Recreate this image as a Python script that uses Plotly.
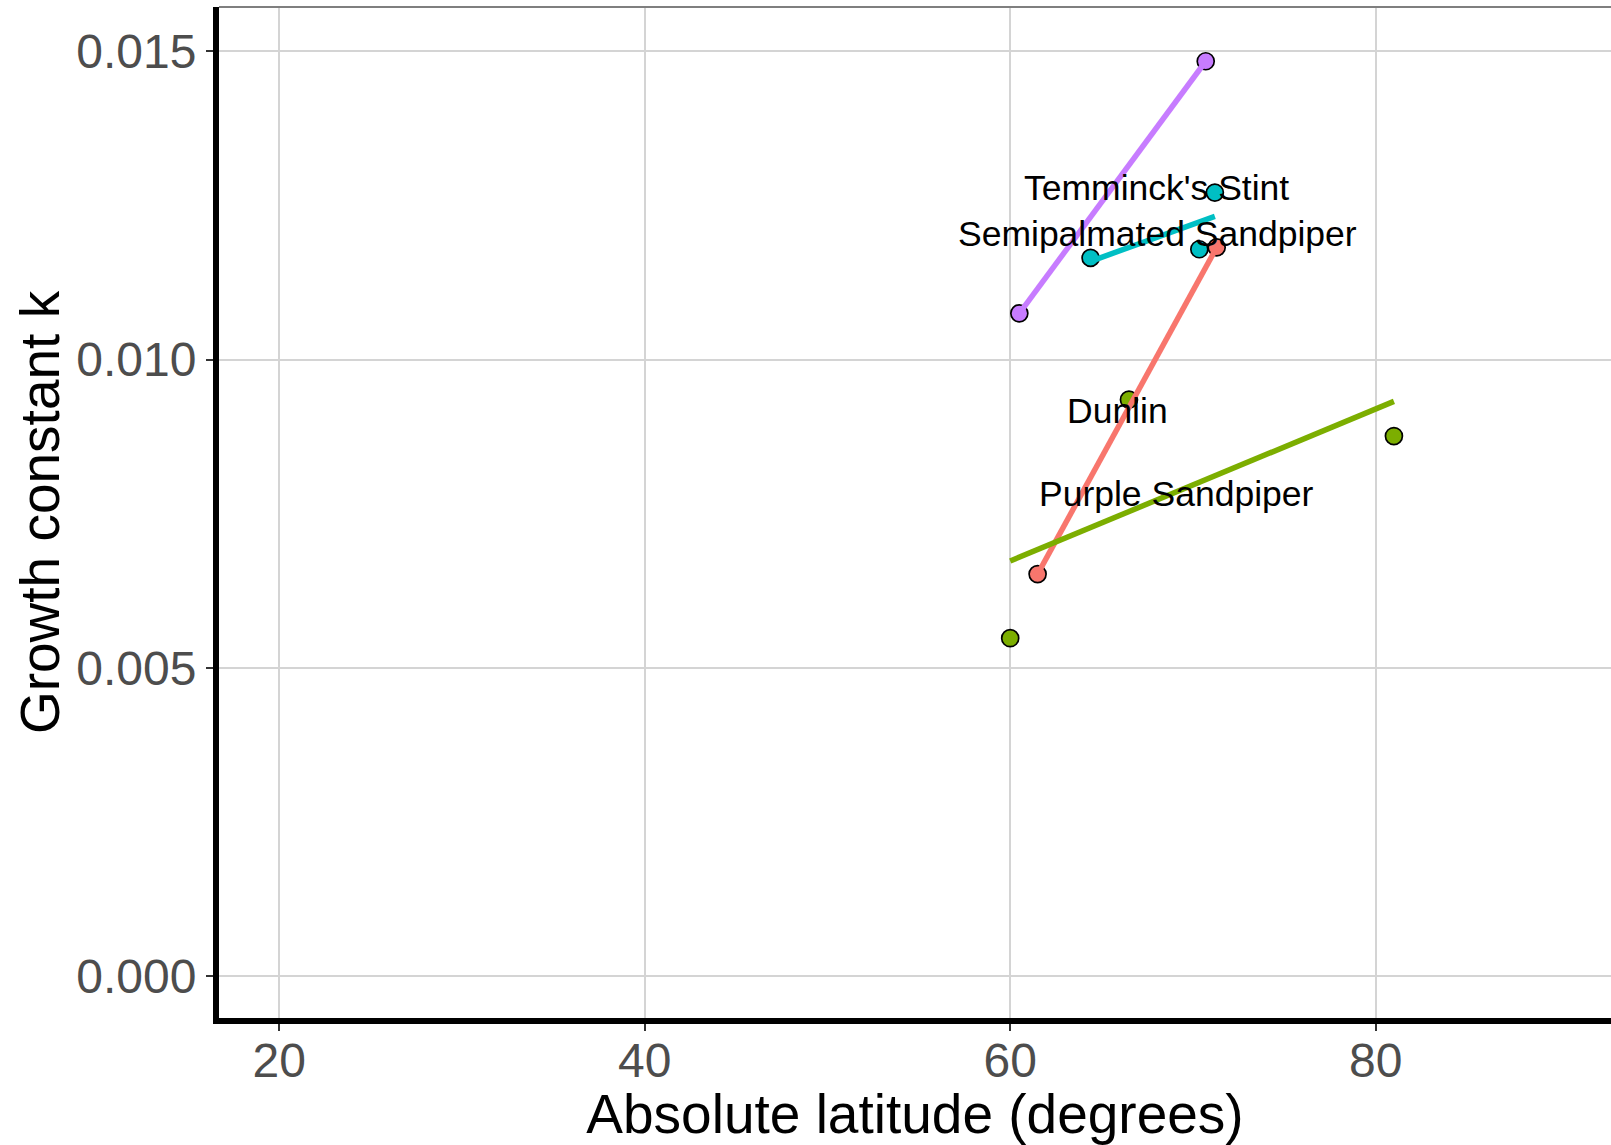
import numpy as np
import plotly.graph_objects as go

# Growth constant k against absolute latitude, per shorebird species
species = ["Dunlin", "Purple Sandpiper", "Semipalmated Sandpiper", "Temminck's Stint"]
colors = ["#F8766D", "#7CAE00", "#00BFC4", "#C77CFF"]

dunlin_lat = [61.5, 71.3]
dunlin_k = [0.00652, 0.01182]
purple_lat = [60.0, 66.5, 81.0]
purple_k = [0.00548, 0.00935, 0.00876]
semi_lat = [64.4, 70.35, 71.2]
semi_k = [0.01165, 0.01179, 0.01271]
temm_lat = [60.5, 70.7]
temm_k = [0.01075, 0.01484]

lats = [dunlin_lat, purple_lat, semi_lat, temm_lat]
ks = [dunlin_k, purple_k, semi_k, temm_k]

# species name labels
label_lat = [65.87, 69.11, 68.08, 67.99]
label_k = [0.00917, 0.00782, 0.01203, 0.01278]

x_ticks = [20, 40, 60, 80]
y_ticks = [0.000, 0.005, 0.010, 0.015]

FONT = "Liberation Sans, Arial, Helvetica, sans-serif"

fig = go.Figure()

# observed points
for name, col, x, y in zip(species, colors, lats, ks):
    fig.add_trace(go.Scatter(
        x=x, y=y, mode="markers", name=name, showlegend=False,
        marker=dict(size=17, color=col, line=dict(color="black", width=1.7)),
    ))

# least-squares line per species over its latitude range
for name, col, x, y in zip(species, colors, lats, ks):
    slope, intercept = np.polyfit(x, y, 1)
    xs = np.array([min(x), max(x)])
    fig.add_trace(go.Scatter(
        x=xs, y=slope * xs + intercept, mode="lines", showlegend=False,
        line=dict(color=col, width=5.5),
    ))

for name, lx, ly in zip(species, label_lat, label_k):
    fig.add_annotation(
        x=lx, y=ly, text=name, showarrow=False,
        xanchor="center", yanchor="middle",
        font=dict(family=FONT, size=35.5, color="black"),
    )

# thin border along the top of the panel
fig.add_shape(type="line", xref="paper", yref="paper", x0=0, x1=1, y0=1, y1=1,
              line=dict(color="#7f7f7f", width=2))

fig.update_layout(
    width=1611, height=1145,
    margin=dict(l=219, r=0, t=7, b=127),
    paper_bgcolor="white", plot_bgcolor="white",
    font=dict(family=FONT),
    showlegend=False,
)

fig.update_xaxes(
    range=[16.70, 92.88], tickvals=x_ticks, ticktext=[str(v) for v in x_ticks],
    showgrid=True, gridcolor="#d4d4d4", gridwidth=1.8, zeroline=False,
    showline=True, linecolor="black", linewidth=6,
    ticks="outside", ticklen=7, tickwidth=2, tickcolor="#333333",
    ticklabelstandoff=-12,
    tickfont=dict(family=FONT, size=48, color="#4D4D4D"),
    title=dict(text="Absolute latitude (degrees)", standoff=10,
               font=dict(family=FONT, size=55, color="black")),
)
fig.update_yaxes(
    range=[-0.000681, 0.015720], tickvals=y_ticks,
    ticktext=[f"{v:.3f}" for v in y_ticks],
    showgrid=True, gridcolor="#d4d4d4", gridwidth=1.8, zeroline=False,
    showline=True, linecolor="black", linewidth=6,
    ticks="outside", ticklen=7, tickwidth=2, tickcolor="#333333",
    tickfont=dict(family=FONT, size=48, color="#4D4D4D"),
    title=dict(text="Growth constant k", standoff=1,
               font=dict(family=FONT, size=55, color="black")),
)

fig.write_html("out.html")
